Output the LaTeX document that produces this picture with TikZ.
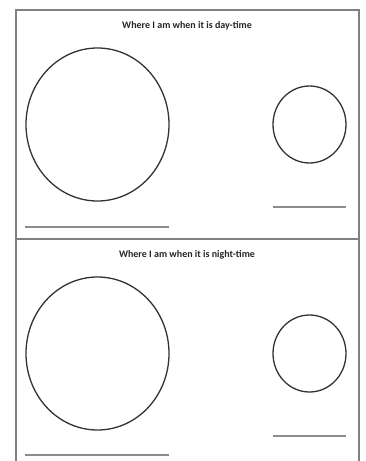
\documentclass[tikz,border=0pt]{standalone}
\usepackage{fontspec}
\setmainfont{Carlito}
\begin{document}
\begin{tikzpicture}[x=1pt,y=-1pt,
  frame/.style={draw=black!50,line width=1.2pt},
  ring/.style={draw=black!80,line width=1.3pt},
  blank/.style={draw=black!45,line width=1.1pt},
  title/.style={font=\bfseries\fontsize{10}{11}\selectfont,text=black!85,inner sep=0pt}]
\useasboundingbox[fill=white] (0,0) rectangle (366,461);
% frame
\draw[frame] (16,462) -- (16,10) -- (359,10) -- (359,462);
\draw[frame] (16,239) -- (359,239);
% top panel
\node[title] (t1) at (187,25.5) {Where I am when it is day-time};
\draw[ring] (97.5,124.5) ellipse [x radius=71.5, y radius=76.5];
\draw[ring] (309.5,124.5) ellipse [x radius=36.5, y radius=38.5];
\draw[blank] (25,227) -- (169,227);
\draw[blank] (273,207) -- (346,207);
% bottom panel
\node[title] (t2) at (187,254.5) {Where I am when it is night-time};
\draw[ring] (97.5,353.5) ellipse [x radius=71.5, y radius=76.5];
\draw[ring] (309.5,353.5) ellipse [x radius=36.5, y radius=38.5];
\draw[blank] (25,455) -- (169,455);
\draw[blank] (273,436) -- (346,436);
\end{tikzpicture}
\end{document}
